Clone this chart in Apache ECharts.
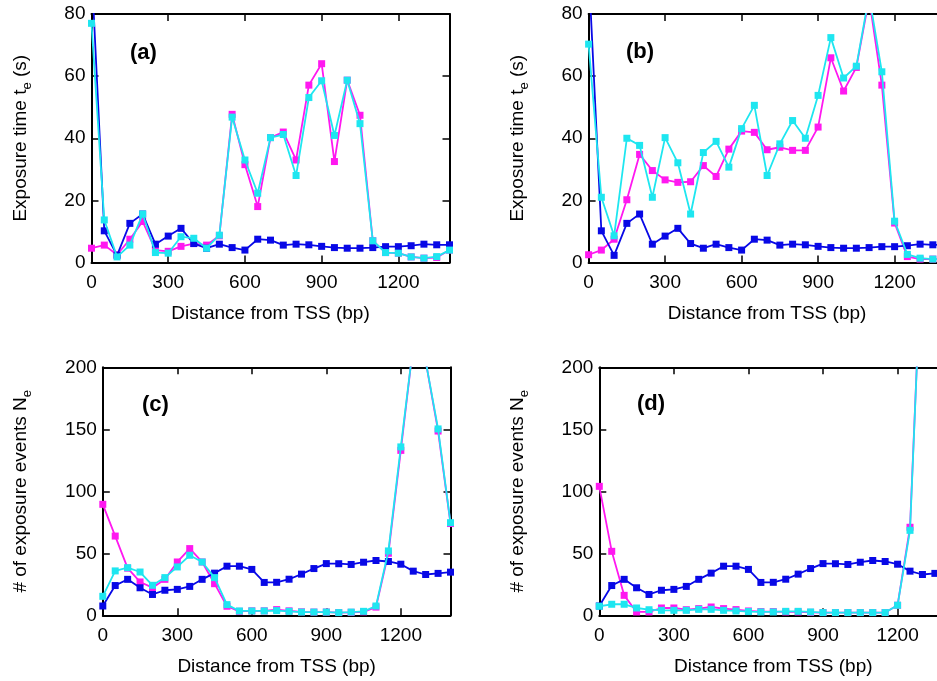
<!DOCTYPE html>
<html>
<head>
<meta charset="utf-8">
<script src="https://cdn.jsdelivr.net/npm/echarts@6/dist/echarts.min.js"></script>
<style>html,body{margin:0;padding:0;background:#fff}#chart{width:937px;height:681px}</style>
</head>
<body>
<div id="chart"></div>
<script>
// Distance from TSS (bp)
const distances = [0,50,100,150,200,250,300,350,400,450,500,550,600,650,700,750,800,850,900,950,1000,1050,1100,1150,1200,1250,1300,1350,1400];
const xTicks = [0,300,600,900,1200];

// Exposure time t_e (s)  -- panels (a) and (b)
const blueTe = [95,10.2,2.3,12.6,15.6,5.9,8.5,11.0,6.1,4.6,5.9,4.8,4.0,7.5,7.2,5.6,5.9,5.7,5.2,4.8,4.6,4.6,4.8,5.1,5.1,5.4,5.9,5.7,5.7];
const magentaA = [4.6,5.6,2.5,7.5,13.2,4.0,3.6,5.2,6.1,5.6,8.6,47.7,31.5,18.0,40.2,42.0,33.0,57.1,64.0,32.5,58.7,47.4,7.0,3.2,3.0,1.8,1.4,1.6,4.0];
const cyanA = [77,13.7,1.8,5.6,15.6,3.2,3.0,8.3,7.8,4.6,8.8,46.8,33.0,22.3,40.2,41.2,28.0,53.1,58.5,40.9,58.7,44.7,7.0,3.2,3.0,1.8,1.4,1.9,4.0];
const magentaB = [2.5,4.0,7.5,20.2,34.8,29.6,26.6,25.8,26.0,31.2,27.7,36.5,42.3,41.9,36.3,37.1,36.1,36.1,43.6,65.9,55.2,62.8,85,57.1,12.7,1.9,1.1,1.1,1.0];
const cyanB = [70.3,21.0,8.6,40.0,37.7,21.0,40.2,32.1,15.6,35.4,39.0,30.7,43.1,50.6,28.0,38.2,45.7,40.0,53.8,72.4,59.4,63.2,86,61.4,13.3,2.6,1.4,1.1,1.0];

// # of exposure events N_e  -- panels (c) and (d)
const blueNe = [7.5,24.0,29.0,22.2,16.8,20.2,20.9,23.3,29.0,34.0,39.6,39.6,37.0,26.5,26.6,29.1,33.2,37.7,41.7,41.6,41.0,42.8,44.2,43.4,41.2,35.6,32.9,33.8,34.8];
const magentaC = [89.5,63.9,38,26.9,22.3,29.0,43.0,53.8,43.0,25.5,7.3,3.2,3.6,3.6,4.6,3.6,2.8,2.6,2.6,2.2,2.4,2.8,6.6,50.0,133,218,205,148.6,74.0];
const cyanC = [15.3,35.8,38.4,34.9,24.2,30.4,39.0,48.4,43.0,30.4,8.6,3.5,3.5,3.5,3.8,3.2,2.6,2.6,2.6,2.2,2.6,3.2,7.5,51.9,135.8,218,205,150.3,74.7];
const magentaD = [104,51.6,16.1,2.7,2.7,5.9,5.9,4.5,5.4,6.7,5.4,4.6,3.5,3.0,3.0,2.7,2.7,2.4,2.2,2.2,2.2,2.2,2.2,2.2,8.1,71,310,300,280];
const cyanD = [7.3,8.9,8.9,5.9,4.5,4.0,4.0,4.0,4.8,4.8,4.0,3.5,3.0,2.7,2.7,3.2,3.2,2.7,2.2,2.2,2.2,2.2,2.2,2.2,8.1,68.5,310,300,280];

const panelLabels = ['(a)','(b)','(c)','(d)'];
const xTitle = 'Distance from TSS (bp)';
const yTitleTe = '{m|Exposure time t}{s|e}{m| (s)}';
const yTitleNe = '{m|# of exposure events N}{s|e}';

const FONT = 'Liberation Sans, Arial, Helvetica, sans-serif';
const C_MAG = '#ff18f0', C_BLUE = '#0808e6', C_CYAN = '#1ee6f0';

const panels = [
  {grid:{left:91.5, top:14, width:358, height:248.5}, ymax:80, yint:20, title:yTitleTe, gap:59,
   series:[magentaA, blueTe, cyanA], label:{x:130, y:42}},
  {grid:{left:588.6, top:14, width:357, height:248.5}, ymax:80, yint:20, title:yTitleTe, gap:59,
   series:[magentaB, blueTe, cyanB], label:{x:626, y:41}},
  {grid:{left:102.8, top:367.3, width:347.7, height:248}, ymax:200, yint:50, title:yTitleNe, gap:70,
   series:[magentaC, blueNe, cyanC], label:{x:142, y:394}},
  {grid:{left:599.3, top:367.3, width:348, height:248}, ymax:200, yint:50, title:yTitleNe, gap:70,
   series:[magentaD, blueNe, cyanD], label:{x:637, y:393}}
];

const grids = [], xAxes = [], yAxes = [], series = [], graphics = [];
const lineAx = {show:true, onZero:false, lineStyle:{color:'#000', width:2}};
const tickAx = {show:true, inside:true, length:7, lineStyle:{color:'#000', width:1.5}};

panels.forEach((p, i) => {
  grids.push(Object.assign({outerBoundsMode:'none', containLabel:false}, p.grid));
  xAxes.push({
    type:'value', gridIndex:i, position:'bottom', min:0, max:1400, interval:300,
    axisLine:lineAx, axisTick:tickAx, splitLine:{show:false},
    axisLabel:{show:true, margin:11, color:'#000', fontSize:19, fontFamily:FONT, showMaxLabel:false,
      formatter: v => xTicks.indexOf(v) >= 0 ? String(v) : ''},
    name:xTitle, nameLocation:'middle', nameGap:42,
    nameTextStyle:{color:'#000', fontSize:19, fontFamily:FONT}
  });
  xAxes.push({
    type:'value', gridIndex:i, position:'top', min:0, max:1400, interval:300,
    axisLine:lineAx, axisTick:tickAx, splitLine:{show:false}, axisLabel:{show:false}
  });
  yAxes.push({
    type:'value', gridIndex:i, position:'left', min:0, max:p.ymax, interval:p.yint,
    axisLine:lineAx, axisTick:tickAx, splitLine:{show:false},
    axisLabel:{show:true, margin:6, color:'#000', fontSize:19, fontFamily:FONT},
    name:p.title, nameLocation:'middle', nameGap:p.gap,
    nameTextStyle:{color:'#000', fontFamily:FONT, rich:{
      m:{fontSize:19, fontFamily:FONT, color:'#000', lineHeight:24},
      s:{fontSize:13, fontFamily:FONT, color:'#000', lineHeight:24, padding:[14,0,0,0]}
    }}
  });
  yAxes.push({
    type:'value', gridIndex:i, position:'right', min:0, max:p.ymax, interval:p.yint,
    axisLine:lineAx, axisTick:tickAx, splitLine:{show:false}, axisLabel:{show:false}
  });
  const cols = [C_MAG, C_BLUE, C_CYAN];
  p.series.forEach((vals, k) => {
    series.push({
      type:'line', xAxisIndex:2*i, yAxisIndex:2*i, clip:true,
      data: distances.map((d, j) => [d, vals[j]]),
      symbol:'rect', symbolSize:7, showSymbol:true,
      lineStyle:{color:cols[k], width:1.8}, itemStyle:{color:cols[k]},
      emphasis:{disabled:true}, z:2+k
    });
  });
  graphics.push({type:'text', left:p.label.x, top:p.label.y, z:100,
    style:{text:panelLabels[i], font:'bold 22px ' + FONT, fill:'#000'}});
});

const chart = echarts.init(document.getElementById('chart'), null, {renderer:'canvas'});
chart.setOption({
  animation:false,
  backgroundColor:'#fff',
  grid:grids, xAxis:xAxes, yAxis:yAxes, series:series, graphic:graphics
});
</script>
</body>
</html>
